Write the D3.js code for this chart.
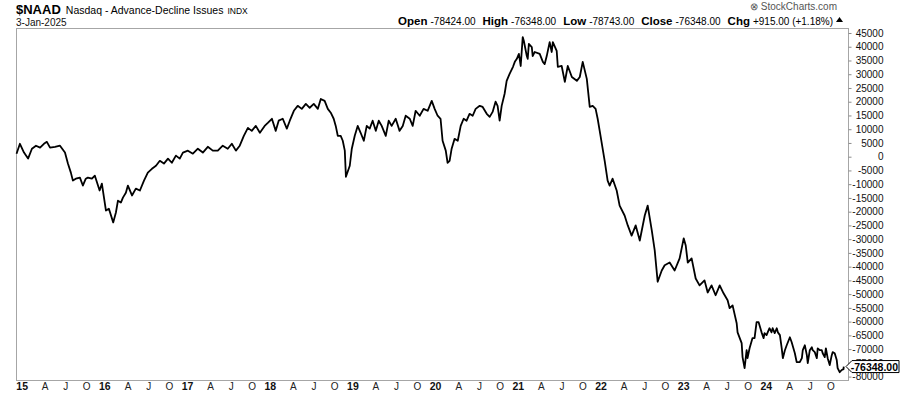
<!DOCTYPE html>
<html><head><meta charset="utf-8">
<script src="https://cdn.jsdelivr.net/npm/d3@7"></script>
<style>body{margin:0;background:#fff}svg{display:block}text{font-family:"Liberation Sans",Arial,sans-serif}</style>
</head><body><svg id="c" width="900" height="396"></svg>
<script>
const dates = ["2015-01-02","2015-01-17","2015-02-04","2015-02-22","2015-03-11","2015-03-29","2015-04-16","2015-05-03","2015-05-16","2015-05-30","2015-06-21","2015-07-13","2015-08-04","2015-08-17","2015-08-30","2015-09-08","2015-09-21","2015-10-09","2015-10-22","2015-11-04","2015-11-13","2015-12-01","2015-12-14",
"2016-01-04","2016-01-14","2016-02-01","2016-02-14","2016-03-04","2016-03-16","2016-03-25","2016-04-07","2016-04-16","2016-04-29","2016-05-08","2016-05-26","2016-06-12","2016-06-30","2016-07-18","2016-08-04","2016-08-22","2016-09-09","2016-09-26","2016-10-14","2016-11-01","2016-11-18","2016-12-06","2016-12-23",
"2017-01-06","2017-01-28","2017-02-19","2017-03-13","2017-04-04","2017-04-26","2017-05-18","2017-06-09","2017-07-01","2017-07-23","2017-08-10","2017-08-28","2017-09-14","2017-10-02","2017-10-20","2017-11-06","2017-11-24","2017-12-12",
"2018-01-02","2018-01-16","2018-02-03","2018-02-20","2018-03-05","2018-03-23","2018-04-10","2018-04-23","2018-05-11","2018-05-28","2018-06-15","2018-07-03","2018-07-20","2018-08-07","2018-08-25","2018-09-07","2018-09-24","2018-10-08","2018-10-21","2018-11-03","2018-11-12","2018-11-21","2018-12-04","2018-12-13","2018-12-22","2018-12-27",
"2019-01-13","2019-01-22","2019-02-04","2019-02-17","2019-03-02","2019-03-16","2019-03-29","2019-04-11","2019-04-24","2019-05-08","2019-05-21","2019-06-03","2019-06-21","2019-07-04","2019-07-17","2019-08-04","2019-08-21","2019-09-04","2019-09-17","2019-10-05","2019-10-18","2019-10-31","2019-11-18","2019-12-05","2019-12-23",
"2020-01-10","2020-01-23","2020-02-05","2020-02-18","2020-02-27","2020-03-12","2020-03-20","2020-03-29","2020-04-07","2020-04-20","2020-05-04","2020-05-17","2020-05-30","2020-06-12","2020-06-25","2020-07-09","2020-07-22","2020-08-09","2020-08-22","2020-09-09","2020-09-22","2020-10-05","2020-10-18","2020-10-27","2020-11-05","2020-11-14","2020-11-27","2020-12-06","2020-12-19",
"2021-01-03","2021-01-11","2021-01-20","2021-01-29","2021-02-06","2021-02-15","2021-02-20","2021-03-05","2021-03-09","2021-03-14","2021-03-27","2021-03-31","2021-04-09","2021-05-01","2021-05-15","2021-05-23","2021-06-01","2021-06-14","2021-06-23","2021-06-28","2021-07-15","2021-07-20","2021-08-06","2021-08-20","2021-08-28","2021-09-02","2021-09-20","2021-10-12","2021-10-25","2021-11-07","2021-11-25","2021-12-08","2021-12-21",
"2022-01-03","2022-01-12","2022-01-21","2022-02-12","2022-02-25","2022-03-06","2022-03-19","2022-04-06","2022-04-19","2022-05-11","2022-05-25","2022-06-11","2022-06-29","2022-07-17","2022-08-08","2022-08-21","2022-09-08","2022-09-21","2022-10-04","2022-10-22","2022-11-04","2022-11-26","2022-12-18",
"2023-01-09","2023-01-27","2023-02-05","2023-02-14","2023-03-03","2023-03-21","2023-04-07","2023-04-29","2023-05-13","2023-05-30","2023-06-17","2023-07-05","2023-07-22","2023-08-09","2023-08-18","2023-08-31","2023-09-18","2023-09-22","2023-10-10","2023-10-14","2023-10-23","2023-11-01","2023-11-05","2023-11-14","2023-11-27","2023-12-06","2023-12-15","2023-12-24",
"2024-01-06","2024-01-15","2024-01-19","2024-01-28","2024-02-02","2024-02-10","2024-02-19","2024-02-24","2024-03-04","2024-03-13","2024-03-18","2024-03-27","2024-04-04","2024-04-09","2024-04-18","2024-04-26","2024-05-10","2024-05-18","2024-06-01","2024-06-09","2024-06-23","2024-07-02","2024-07-06","2024-07-15","2024-07-24","2024-07-28","2024-08-06","2024-08-15","2024-08-19","2024-08-28","2024-09-06","2024-09-10","2024-09-19","2024-09-28","2024-10-02","2024-10-11","2024-10-16","2024-10-24","2024-11-02","2024-11-11","2024-11-15","2024-11-24","2024-12-03","2024-12-07","2024-12-16","2024-12-25","2025-01-02","2025-01-03"];
const values = [1100,4700,1500,-700,2900,4000,3300,4700,5400,3300,3600,4000,1500,-2500,-5800,-8700,-8000,-7600,-10500,-8000,-7600,-8000,-6900,
-12300,-9800,-19600,-18900,-23900,-20300,-16000,-16700,-14900,-13100,-10500,-14100,-11600,-12300,-8700,-5800,-4400,-3300,-1500,-2500,-700,-2200,400,-700,
1500,2200,1100,2900,1500,3600,2200,2200,4000,2900,4700,2200,4000,7600,10500,9400,11200,8700,
11200,12300,13800,9400,13100,13800,10200,13100,16700,18500,17400,19200,17800,19200,17400,21000,20300,17400,16000,13800,11200,7600,7600,5800,2200,-7300,
-3300,2900,7600,11200,8700,5800,11200,10200,13100,9400,13100,11200,7600,13100,11200,13800,9400,11200,14900,13800,11200,16700,14900,17400,16700,
20300,17400,14900,13800,5800,2200,-2200,-1500,2900,6500,5800,11200,13800,13100,15600,14900,17400,18500,18100,15600,14500,16300,20000,18500,13100,18500,22900,27600,30100,
32700,34500,35600,37400,33000,43500,42100,36600,35600,41000,39900,36600,38100,37400,34500,33700,36600,41700,38100,41700,38500,32700,33000,27200,30800,33000,29000,27600,29000,34500,28300,18100,18500,
17400,13800,9400,-1500,-8700,-10500,-8000,-12300,-17800,-21400,-25000,-28700,-25000,-30500,-21400,-17800,-26800,-34100,-45500,-41400,-39500,-38500,-41400,
-37000,-29700,-32300,-38500,-37000,-44300,-46800,-45000,-49400,-46800,-50400,-46800,-49700,-52200,-55100,-54100,-60600,-63900,-67800,-72900,-76900,-70400,-73300,-69700,-66000,-66000,-60200,-60200,
-63900,-66000,-64200,-64900,-63900,-62400,-63900,-62400,-64200,-62400,-63900,-64900,-69700,-73300,-70400,-68600,-65700,-67500,-71500,-74700,-74700,-73300,-70400,-68600,-72200,-75100,-70400,-69300,-70400,-71100,-73300,-69700,-70400,-70400,-71500,-72900,-69700,-73300,-75800,-72200,-71100,-71500,-74000,-76900,-78400,-77600,-77263,-76348];

const yTickValues = d3.range(-80000, 45001, 5000);
const yearLabels = ["15","16","17","18","19","20","21","22","23","24"];
const yearStarts = [2015,2016,2017,2018,2019,2020,2021,2022,2023,2024];
const quarterLabels = ["A","J","O"];
const quarterMonths = [3,6,9];
const lastClose = -76348.00;
const headerFields = [["Open","-78424.00"],["High","-76348.00"],["Low","-78743.00"],["Close","-76348.00"],["Chg","+915.00 (+1.18%)"]];

const parse = d3.utcParse("%Y-%m-%d");
const data = dates.map((d,i)=>({date:parse(d), value:values[i]}));

const svg = d3.select("#c");
const L=16, R=848, T=28, B=380;
const x = d3.scaleUtc().domain([new Date(Date.UTC(2015,0,1)), new Date(Date.UTC(2025,0,1))]).range([16.3, 843.3]);
const y = d3.scaleLinear().domain([-80000,45000]).range([376.6, 33]);

// frame
svg.append("rect").attr("x",L+0.5).attr("y",T+0.5).attr("width",R-L).attr("height",B-T)
  .attr("fill","none").attr("stroke","#a6a6a6").attr("stroke-width",1);

// y axis
const yAxis = d3.axisRight(y).tickValues(yTickValues).tickSize(3).tickPadding(3)
  .tickFormat(d=>String(d));
const gy = svg.append("g").attr("transform",`translate(${R+0.5},0)`).call(yAxis);
gy.select(".domain").remove();
gy.selectAll(".tick line").attr("stroke","#8c8c8c");
gy.selectAll(".tick text").attr("text-anchor","end").attr("x",35).attr("fill","#111")
  .style("font-size","10px").style("font-family","'Liberation Sans',Arial,sans-serif");

// x labels
const gx = svg.append("g");
yearStarts.forEach((yr,i)=>{
  gx.append("text").attr("x",x(new Date(Date.UTC(yr,0,1)))).attr("y",390)
    .attr("font-size","10.5px").attr("font-weight","bold").attr("fill","#111").text(yearLabels[i]);
  quarterMonths.forEach((m,j)=>{
    gx.append("text").attr("x",x(new Date(Date.UTC(yr,m,1)))+8.5).attr("y",390)
      .attr("text-anchor","middle").attr("font-size","10px").attr("fill","#222").text(quarterLabels[j]);
  });
});

// line
svg.append("path").datum(data)
  .attr("d", d3.line().x(d=>x(d.date)).y(d=>y(d.value)))
  .attr("fill","none").attr("stroke","#000").attr("stroke-width",1.8).attr("stroke-linejoin","round");

// last value box
const ly = y(lastClose);
const bx = R-2;
svg.append("path")
  .attr("d",`M${bx},${ly} L${bx+6},${ly-6} L899,${ly-6} L899,${ly+6} L${bx+6},${ly+6} Z`)
  .attr("fill","#fff").attr("stroke","#000").attr("stroke-width",1);
svg.append("text").attr("x",898).attr("y",ly+4).attr("text-anchor","end")
  .attr("font-size","10.5px").attr("font-weight","bold").attr("fill","#000").text(lastClose.toFixed(2));

// header left
const hl = svg.append("text").attr("x",16).attr("y",14);
hl.append("tspan").attr("font-size","13px").attr("font-weight","bold").text("$NAAD");
hl.append("tspan").attr("font-size","10.5px").attr("dx",5).text("Nasdaq - Advance-Decline Issues");
hl.append("tspan").attr("font-size","8.5px").attr("dx",4).text("INDX");
svg.append("text").attr("x",16).attr("y",26).attr("font-size","10px").attr("fill","#111").text("3-Jan-2025");

// header right
svg.append("text").attr("x",837).attr("y",10).attr("text-anchor","end").attr("font-size","10px").attr("fill","#555").text("\u2297 StockCharts.com");
const hr = svg.append("text").attr("x",833).attr("y",25).attr("text-anchor","end").attr("fill","#000");
headerFields.forEach(([k,v],i)=>{
  hr.append("tspan").attr("font-size","11.5px").attr("font-weight","bold").attr("dx", i? 7:0).text(k);
  hr.append("tspan").attr("font-size","10px").attr("dx",3).text(v);
});
svg.append("path").attr("d","M836,22 L839.5,17 L843,22 Z").attr("fill","#000");
</script></body></html>
